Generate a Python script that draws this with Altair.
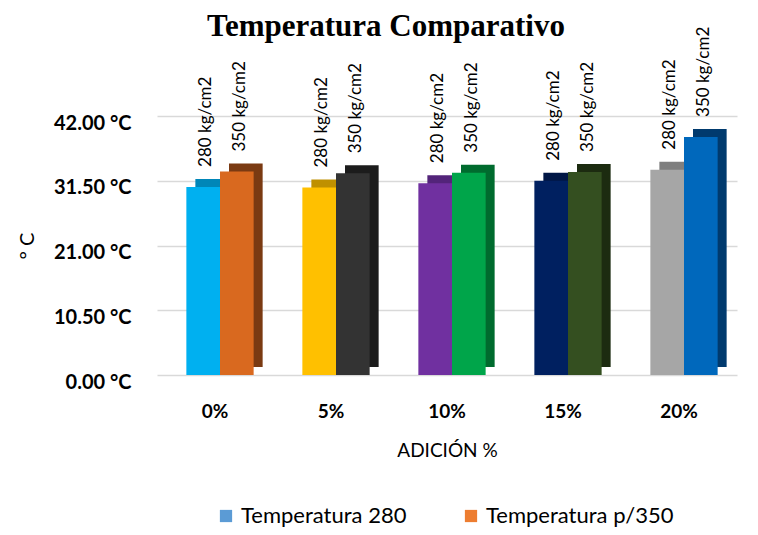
import altair as alt
import pandas as pd

categories = ["0%", "5%", "10%", "15%", "20%"]
series = ["Temperatura 280", "Temperatura p/350"]
bar_labels = ["280 kg/cm2", "350 kg/cm2"]
temp_280 = [30.5, 30.4, 31.1, 31.5, 33.3]
temp_350 = [33.0, 32.7, 32.8, 32.9, 38.6]
front_280 = ["#00B0F0", "#FFC000", "#7030A0", "#002060", "#A6A6A6"]
front_350 = ["#D9691F", "#333333", "#00A54A", "#344F20", "#0068BC"]
side_280 = ["#0086B8", "#BF9000", "#53247A", "#001645", "#7F7F7F"]
side_350 = ["#7A3A12", "#1C1C1C", "#006B2E", "#1C2B10", "#003A6E"]
legend_colors = ["#5B9BD5", "#ED7D31"]

rows = []
for i, c in enumerate(categories):
    rows.append(dict(cat=c, serie=series[0], lab=bar_labels[0], val=temp_280[i],
                     front=front_280[i], side=side_280[i]))
    rows.append(dict(cat=c, serie=series[1], lab=bar_labels[1], val=temp_350[i],
                     front=front_350[i], side=side_350[i]))
df = pd.DataFrame(rows)

FONT = "Lato"
W, H = 580, 259
P_IN, P_OUT = 0.42, 0.21
STEP = W / (len(categories) - P_IN + 2 * P_OUT)
BW = STEP * (1 - P_IN)
SHIFT = 5
DEPTH = 9

x = alt.X("cat:N", sort=categories, scale=alt.Scale(paddingInner=P_IN, paddingOuter=P_OUT),
          axis=alt.Axis(title="ADICIÓN %", labelAngle=0, labelFontSize=19, labelFontWeight="bold",
                        labelFont=FONT, labelColor="#000000", labelPadding=27, domain=False,
                        ticks=False, titleFont=FONT, titleFontSize=19, titleFontWeight="normal",
                        titleColor="#000000", titlePadding=20))
y = alt.Y("val:Q", scale=alt.Scale(domain=[0, 42], nice=False),
          axis=alt.Axis(title="° C", values=[0, 10.5, 21, 31.5, 42],
                        labelExpr="format(datum.value, '.2f') + ' °C'",
                        labelFont=FONT, labelFontSize=20, labelFontWeight="bold",
                        labelColor="#000000", labelPadding=26, labelOffset=7,
                        domain=False, ticks=False, gridColor="#D9D9D9", gridWidth=1.5,
                        titleFont=FONT, titleFontSize=20, titleFontWeight="normal",
                        titleColor="#000000", titlePadding=16))

def xo(shift):
    return alt.XOffset("serie:N", sort=series,
                       scale=alt.Scale(type="band", domain=series, range=[shift, BW + shift],
                                       paddingInner=0, paddingOuter=0))

TXT0 = SHIFT + BW / 4 + 3
xo_text = alt.XOffset("serie:N", sort=series,
                      scale=alt.Scale(type="point", domain=series,
                                      range=[TXT0, TXT0 + BW / 2], padding=0))

base = alt.Chart(df)

side = base.mark_bar(yOffset=-8, y2Offset=-8).encode(
    x=x, xOffset=xo(SHIFT + DEPTH), y=y, color=alt.Color("side:N", scale=None))
front = base.mark_bar().encode(
    x=x, xOffset=xo(SHIFT), y=y, color=alt.Color("front:N", scale=None))
text = base.mark_text(angle=270, align="left", baseline="middle", dx=20,
                      font=FONT, fontSize=17, color="#000000").encode(
    x=x, xOffset=xo_text, y=y, text="lab:N")
legend_layer = base.mark_square(opacity=0).encode(
    x=x, xOffset=xo(SHIFT), y=y,
    color=alt.Color("serie:N", sort=series,
                    scale=alt.Scale(domain=series, range=legend_colors),
                    legend=alt.Legend(title=None, orient="none", direction="horizontal",
                                      legendX=58, legendY=389, symbolType="square",
                                      symbolSize=150, symbolOpacity=1, symbolStrokeWidth=0,
                                      labelFont=FONT, labelFontSize=22, labelColor="#000000",
                                      labelLimit=400, columnPadding=53, labelOffset=4)))

chart = alt.layer(side, front, text, legend_layer).resolve_scale(
    xOffset="independent"
).properties(
    width=W, height=H,
    title=alt.TitleParams("Temperatura Comparativo", font="Liberation Serif", fontSize=31,
                          fontWeight="bold", color="#000000", anchor="middle",
                          dx=-61, dy=20),
    autosize=alt.AutoSizeParams(type="none"),
    padding={"left": 149, "top": 108, "right": 5, "bottom": 152},
).configure_view(stroke=None)

chart.save("out.html", embed_options={"renderer": "svg", "actions": False})
